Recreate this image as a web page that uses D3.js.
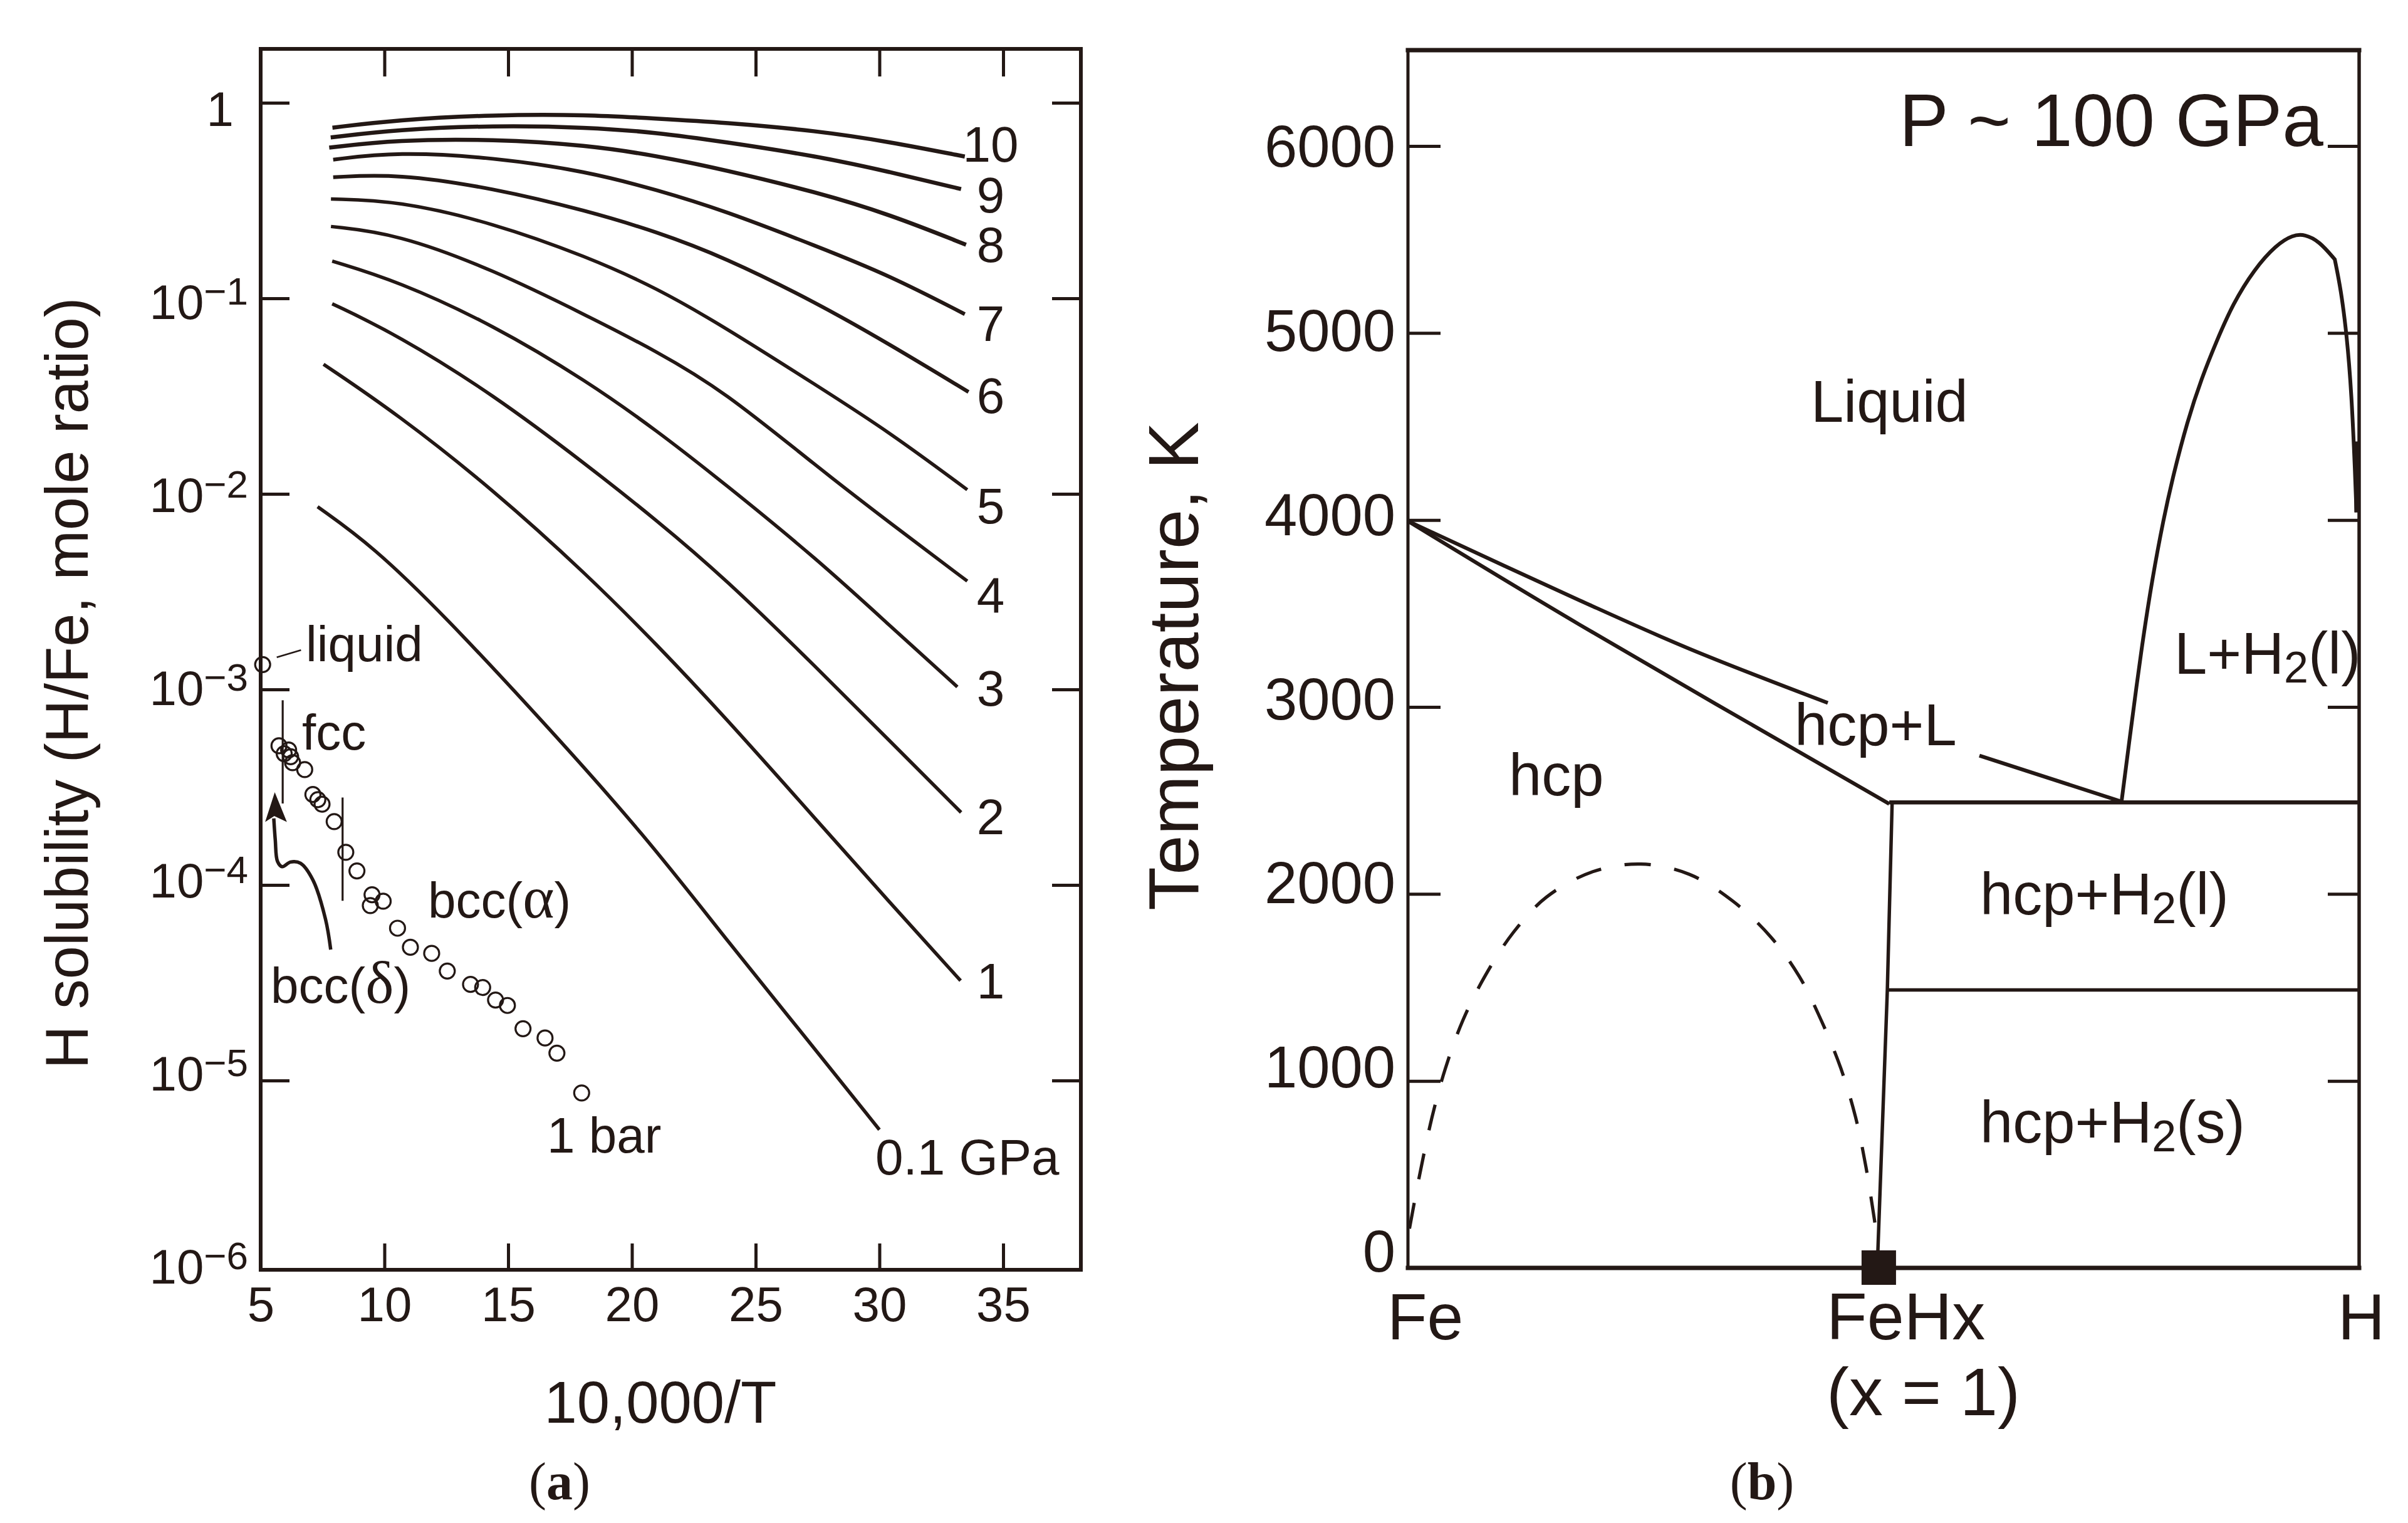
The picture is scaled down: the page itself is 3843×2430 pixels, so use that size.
<!DOCTYPE html>
<html>
<head>
<meta charset="utf-8">
<script src="https://cdn.jsdelivr.net/npm/d3@7"></script>
<style>
  html, body { margin: 0; padding: 0; background: #fff; }
  text { font-family: "Liberation Sans", Arial, sans-serif; fill: #231815; }
</style>
</head>
<body>
<svg id="chart"></svg>
<script>
// (a) H solubility curves, x = 10,000/T, h = H/Fe mole ratio
const pressureLabels = ['10', '9', '8', '7', '6', '5', '4', '3', '2', '1', '0.1 GPa'];

const x10 = [7.9, 10.5, 14.4, 18.2, 21, 23.7, 27.5, 30.4, 33.45];
const h10 = [0.746, 0.817, 0.869, 0.869, 0.83, 0.794, 0.719, 0.632, 0.531];
const x9 = [7.83, 10.5, 14.4, 18.2, 21, 23.7, 27.5, 30.4, 33.3];
const h9 = [0.665, 0.729, 0.766, 0.75, 0.705, 0.632, 0.533, 0.444, 0.362];
const x8 = [7.77, 10.5, 14.4, 18.2, 21, 23.7, 27.5, 30.4, 33.5];
const h8 = [0.59, 0.646, 0.652, 0.607, 0.536, 0.456, 0.348, 0.269, 0.188];
const x7 = [7.93, 10.5, 14.4, 18.2, 21, 23.7, 27.5, 30.4, 33.45];
const h7 = [0.512, 0.561, 0.526, 0.445, 0.359, 0.282, 0.184, 0.131, 0.083];
const x6 = [7.93, 10.5, 14.4, 18.2, 21, 23.7, 27.5, 30.4, 33.6];
const h6 = [0.416, 0.434, 0.366, 0.28, 0.219, 0.163, 0.0944, 0.0583, 0.0332];
const x5 = [7.84, 10.5, 14.4, 18.2, 21, 23.7, 27.5, 30.4, 33.55];
const h5 = [0.322, 0.316, 0.243, 0.163, 0.113, 0.0719, 0.0356, 0.0207, 0.0105];
const x4 = [7.84, 10.5, 14.4, 18.2, 21, 23.7, 27.5, 30.4, 33.55];
const h4 = [0.233, 0.214, 0.14, 0.0813, 0.0536, 0.0337, 0.0137, 0.00714, 0.00358];
const x3 = [7.89, 10.5, 14.4, 18.2, 21, 23.7, 27.5, 30.4, 33.15];
const h3 = [0.155, 0.123, 0.0731, 0.0376, 0.0211, 0.0114, 0.00462, 0.00213, 0.00103];
const x2 = [7.89, 10.5, 14.4, 18.2, 21, 23.7, 27.5, 30.4, 33.3];
const h2 = [0.0938, 0.0653, 0.0322, 0.014, 0.00733, 0.00376, 0.00128, 0.000548, 0.000235];
const x1 = [7.54, 10.5, 14.4, 18.2, 21, 23.7, 27.5, 30.4, 33.28];
const h1 = [0.046, 0.0257, 0.0105, 0.00385, 0.0017, 0.000736, 0.000212, 0.0000818, 0.0000324];
const x01 = [7.3, 9.53, 12.43, 16.31, 20.47, 24.03, 26.94, 30.0];
const h01 = [0.00859, 0.0054, 0.00238, 0.000706, 0.000183, 0.0000485, 0.0000171, 0.0000056];

// 1 bar measurements
const barX = [5.08, 5.74, 5.95, 6.13, 6.21, 6.29, 6.78, 7.11, 7.31, 7.48, 7.97, 8.44, 8.89, 9.5, 9.95, 9.43,
  10.53, 11.05, 11.91, 12.54, 13.48, 13.97, 14.49, 14.97, 15.6, 16.49, 16.97, 17.97];
const barH = [1.34e-3, 5.15e-4, 4.69e-4, 4.9e-4, 4.53e-4, 4.22e-4, 3.89e-4, 2.9e-4, 2.73e-4, 2.59e-4, 2.11e-4,
  1.47e-4, 1.18e-4, 8.91e-5, 8.26e-5, 7.85e-5, 6.01e-5, 4.8e-5, 4.47e-5, 3.63e-5, 3.1e-5, 2.99e-5, 2.58e-5,
  2.42e-5, 1.84e-5, 1.65e-5, 1.38e-5, 8.64e-6];

// phase boundaries and the liquid leader
const fccEdgeX = [5.89, 5.89];
const fccEdgeH = [8.8e-4, 2.61e-4];
const bccEdgeX = [8.31, 8.31];
const bccEdgeH = [2.8e-4, 8.3e-5];
const leaderX = [5.65, 6.63];
const leaderH = [1.46e-3, 1.59e-3];
const arrowX = [7.83, 7.62, 7.11, 6.61, 6.21, 5.87, 5.68, 5.59, 5.53];
const arrowH = [4.67e-5, 6.68e-5, 1.06e-4, 1.29e-4, 1.31e-4, 1.24e-4, 1.32e-4, 1.7e-4, 2.19e-4];
const arrowHeadX = [5.57, 5.18, 5.55, 6.06];
const arrowHeadH = [2.98e-4, 2.1e-4, 2.25e-4, 2.1e-4];

const xTicksA = [5, 10, 15, 20, 25, 30, 35];
const yTicksA = [1, 1e-1, 1e-2, 1e-3, 1e-4, 1e-5];
const yExponents = [0, -1, -2, -3, -4, -5, -6];

// (b) Fe-H phase diagram, c = at.% H, t = temperature in K
const solidusC = [0, 18.02, 50.6];
const solidusT = [3994, 3441, 2482];
const liquidusC = [0, 18.02, 29.6, 44.14];
const liquidusT = [3994, 3571, 3311, 3022];
const liquidus2C = [60.08, 74.84];
const liquidus2T = [2740, 2497];
const eutecticC = [50.6, 100];
const eutecticT = [2490, 2490];
const hydrideC = [50.9, 50.4, 49.34];
const hydrideT = [2482, 1487, 0];
const h2TransitionC = [50.4, 100];
const h2TransitionT = [1487, 1487];
// the kink near the H side is listed three times to keep it sharp
const gapC = [75.03, 75.69, 77.12, 78.29, 79.42, 80.43, 81.94, 83.45, 84.97, 86.73, 89.0, 91.27, 93.03, 94.3,
  95.8, 97.44, 97.44, 97.44, 98.08, 98.7, 99.2, 99.59, 99.72];
const gapT = [2497, 2759, 3318, 3697, 4002, 4234, 4529, 4760, 4952, 5157, 5343, 5471, 5525, 5528,
  5491, 5394, 5394, 5394, 5234, 4990, 4683, 4234, 4041];
const gapEdgeC = [99.75, 99.8];
const gapEdgeT = [4420, 4041];
const domeC = [0.16, 1.16, 2.54, 3.93, 5.78, 8.09, 11.09, 14.56, 19.41, 24.49, 29.58, 34.2, 38.13, 41.13, 43.44,
  45.52, 47.05, 48.16, 49.18];
const domeT = [210, 480, 808, 1066, 1325, 1560, 1795, 1983, 2119, 2160, 2105, 1960, 1771, 1560, 1325,
  1066, 808, 537, 211];
const yTicksB = [1000, 2000, 3000, 4000, 5000, 6000];
const yLabelsB = [0, 1000, 2000, 3000, 4000, 5000, 6000];
const feHxC = [49.5];
const feHxT = [0];

const width = 3843, height = 2430;
const ink = '#231815';

const svg = d3.select('#chart').attr('width', width).attr('height', height)
  .style('display', 'block').style('background', '#fff');

const frameA = { left: 416, right: 1725, top: 78, bottom: 2026 };
const frameB = { left: 2247, right: 3765, top: 80, bottom: 2023 };

const xA = d3.scaleLinear().domain([5, 38.14]).range([frameA.left, frameA.right]);
const yA = d3.scaleLog().domain([Math.pow(10, -5.968), Math.pow(10, 0.2756)]).range([frameA.bottom, frameA.top]);
const xB = d3.scaleLinear().domain([0, 100]).range([frameB.left, frameB.right]);
const yB = d3.scaleLinear().domain([0, 6513]).range([frameB.bottom, frameB.top]);

// tick labels sit on a slightly tighter spacing than the ticks in the original
const yLabelA = d3.scaleLinear().domain([0, -6]).range([174, 2021]);
const yLabelB = d3.scaleLinear().domain([0, 6000]).range([1996, 233]);

function label(text, x, y, size, anchor) {
  return svg.append('text').attr('x', x).attr('y', y)
    .attr('font-size', size).attr('text-anchor', anchor || 'start').text(text);
}

function drawLine(xs, ys, sx, sy, sw, curve) {
  const line = d3.line().x(d => sx(d[0])).y(d => sy(d[1]));
  if (curve) line.curve(curve);
  return svg.append('path').attr('d', line(d3.zip(xs, ys)))
    .attr('fill', 'none').attr('stroke', ink).attr('stroke-width', sw);
}

function styleAxis(g) {
  g.select('.domain').remove();
  g.selectAll('line').attr('stroke', ink).attr('stroke-width', 5);
  g.selectAll('text').style('font-size', '78px').attr('fill', ink);
}

// ---------- panel (a) ----------
svg.append('g').attr('transform', `translate(0,${frameA.bottom})`)
  .call(d3.axisBottom(xA).tickValues(xTicksA).tickSize(-42).tickPadding(27).tickFormat(d3.format('d')))
  .call(styleAxis);
svg.append('g').attr('transform', `translate(0,${frameA.top})`)
  .call(d3.axisTop(xA).tickValues(xTicksA.slice(1)).tickSize(-44).tickFormat(''))
  .call(styleAxis);
svg.append('g').attr('transform', `translate(${frameA.left},0)`)
  .call(d3.axisLeft(yA).tickValues(yTicksA).tickSize(-46).tickFormat(''))
  .call(styleAxis);
svg.append('g').attr('transform', `translate(${frameA.right},0)`)
  .call(d3.axisRight(yA).tickValues(yTicksA).tickSize(-46).tickFormat(''))
  .call(styleAxis);

svg.append('rect').attr('x', frameA.left).attr('y', frameA.top)
  .attr('width', frameA.right - frameA.left).attr('height', frameA.bottom - frameA.top)
  .attr('fill', 'none').attr('stroke', ink).attr('stroke-width', 6);

yExponents.forEach(e => {
  const base = yLabelA(e) + 27;
  if (e === 0) {
    label('1', 373, base, 78, 'end');
  } else {
    const t = label('10', 396, base, 78, 'end');
    t.append('tspan').attr('dy', -23).attr('font-size', 62).text('\u2212' + Math.abs(e));
  }
});

const curvesA = [[x10, h10, 6.5], [x9, h9, 6.5], [x8, h8, 6.5], [x7, h7, 6], [x6, h6, 6], [x5, h5, 5.5],
  [x4, h4, 5.5], [x3, h3, 5.5], [x2, h2, 5.5], [x1, h1, 5.5], [x01, h01, 5.5]];
curvesA.forEach(c => drawLine(c[0], c[1], xA, yA, c[2], d3.curveBasis));

// curve labels, next to the right hand ends
const pressureLabelY = [230, 311, 390, 516, 631, 807, 949, 1098, 1303, 1565];
pressureLabelY.forEach((py, i) => label(pressureLabels[i], 1581, py + 28, 80, 'middle'));
label(pressureLabels[10], 1397, 1874, 80);

// 1 bar points
svg.append('g').selectAll('circle').data(d3.zip(barX, barH)).enter().append('circle')
  .attr('cx', d => xA(d[0])).attr('cy', d => yA(d[1])).attr('r', 12)
  .attr('fill', 'none').attr('stroke', ink).attr('stroke-width', 3.2);

drawLine(fccEdgeX, fccEdgeH, xA, yA, 3.2);
drawLine(bccEdgeX, bccEdgeH, xA, yA, 3.2);
drawLine(leaderX, leaderH, xA, yA, 2.6);
drawLine(arrowX, arrowH, xA, yA, 5.5, d3.curveCatmullRom.alpha(0.5));
svg.append('path')
  .attr('d', d3.line().x(d => xA(d[0])).y(d => yA(d[1]))(d3.zip(arrowHeadX, arrowHeadH)) + 'Z')
  .attr('fill', ink);

function greekLabel(letter, x, y) {
  const t = label('bcc(', x, y, 80);
  t.append('tspan').style('font-family', '"Liberation Serif", serif').attr('font-size', 96).text(letter);
  t.append('tspan').text(')');
}

label('liquid', 488, 1055, 80);
label('fcc', 482, 1196, 80);
greekLabel('\u03b1', 683, 1464);
greekLabel('\u03b4', 432, 1600);
label('1 bar', 873, 1839, 80);

label('10,000/T', 1054, 2270, 94, 'middle');
svg.append('text').attr('transform', 'translate(140,1090) rotate(-90)')
  .attr('text-anchor', 'middle').attr('font-size', 95.5).text('H solubility (H/Fe, mole ratio)');

// ---------- panel (b) ----------
svg.append('g').attr('transform', `translate(${frameB.left},0)`)
  .call(d3.axisLeft(yB).tickValues(yTicksB).tickSize(-52).tickFormat(''))
  .call(styleAxis);
svg.append('g').attr('transform', `translate(${frameB.right},0)`)
  .call(d3.axisRight(yB).tickValues(yTicksB).tickSize(-50).tickFormat(''))
  .call(styleAxis);

const frameLine = (x1, y1, x2, y2, sw) => svg.append('line').attr('x1', x1).attr('y1', y1).attr('x2', x2).attr('y2', y2)
  .attr('stroke', ink).attr('stroke-width', sw).attr('stroke-linecap', 'square');
frameLine(frameB.left, frameB.top, frameB.right, frameB.top, 7);
frameLine(frameB.left, frameB.bottom, frameB.right, frameB.bottom, 7);
frameLine(frameB.left, frameB.top, frameB.left, frameB.bottom, 5);
frameLine(frameB.right, frameB.top, frameB.right, frameB.bottom, 5.5);

yLabelsB.forEach(v => label(String(v), 2227, yLabelB(v) + 33, 94, 'end'));

drawLine(solidusC, solidusT, xB, yB, 6, d3.curveCatmullRom.alpha(0.5));
drawLine(liquidusC, liquidusT, xB, yB, 6, d3.curveCatmullRom.alpha(0.5));
drawLine(liquidus2C, liquidus2T, xB, yB, 6);
drawLine(eutecticC, eutecticT, xB, yB, 6.5);
drawLine(hydrideC, hydrideT, xB, yB, 5.5);
drawLine(h2TransitionC, h2TransitionT, xB, yB, 5.5);
drawLine(gapC, gapT, xB, yB, 6, d3.curveBasis);
drawLine(gapEdgeC, gapEdgeT, xB, yB, 9);
drawLine(domeC, domeT, xB, yB, 5.2, d3.curveCatmullRom.alpha(0.5)).attr('stroke-dasharray', '42 38');

svg.append('g').selectAll('rect').data(d3.zip(feHxC, feHxT)).enter().append('rect')
  .attr('x', d => xB(d[0]) - 27.5).attr('y', d => yB(d[1]) - 28)
  .attr('width', 55).attr('height', 55).attr('fill', ink);

label('P ~ 100 GPa', 3031, 233, 118);
label('Liquid', 2890, 673, 94);
label('hcp+L', 2864, 1189, 94);
label('hcp', 2408, 1269, 94);

function h2Label(prefix, suffix, x, y) {
  const t = label(prefix, x, y, 94);
  t.append('tspan').attr('dy', 14).attr('font-size', 70).text('2');
  t.append('tspan').attr('dy', -14).text(suffix);
}
h2Label('L+H', '(l)', 3470, 1075);
h2Label('hcp+H', '(l)', 3160, 1459);
h2Label('hcp+H', '(s)', 3160, 1823);

label('Fe', 2214, 2137, 104);
label('FeHx', 2915, 2137, 106);
label('(x = 1)', 2915, 2258, 108);
label('H', 3731, 2137, 104);

svg.append('text').attr('transform', 'translate(1912,1063) rotate(-90)')
  .attr('text-anchor', 'middle').attr('font-size', 114).text('Temperature, K');

// panel letters, serif with a bold letter
function panelLetter(letter, x) {
  const t = svg.append('text').attr('x', x).attr('y', 2392).attr('text-anchor', 'middle')
    .attr('font-size', 84).style('font-family', '"Liberation Serif", serif').text('(');
  t.append('tspan').attr('font-weight', 'bold').text(letter);
  t.append('tspan').text(')');
}
panelLetter('a', 893);
panelLetter('b', 2812);
</script>
</body>
</html>
